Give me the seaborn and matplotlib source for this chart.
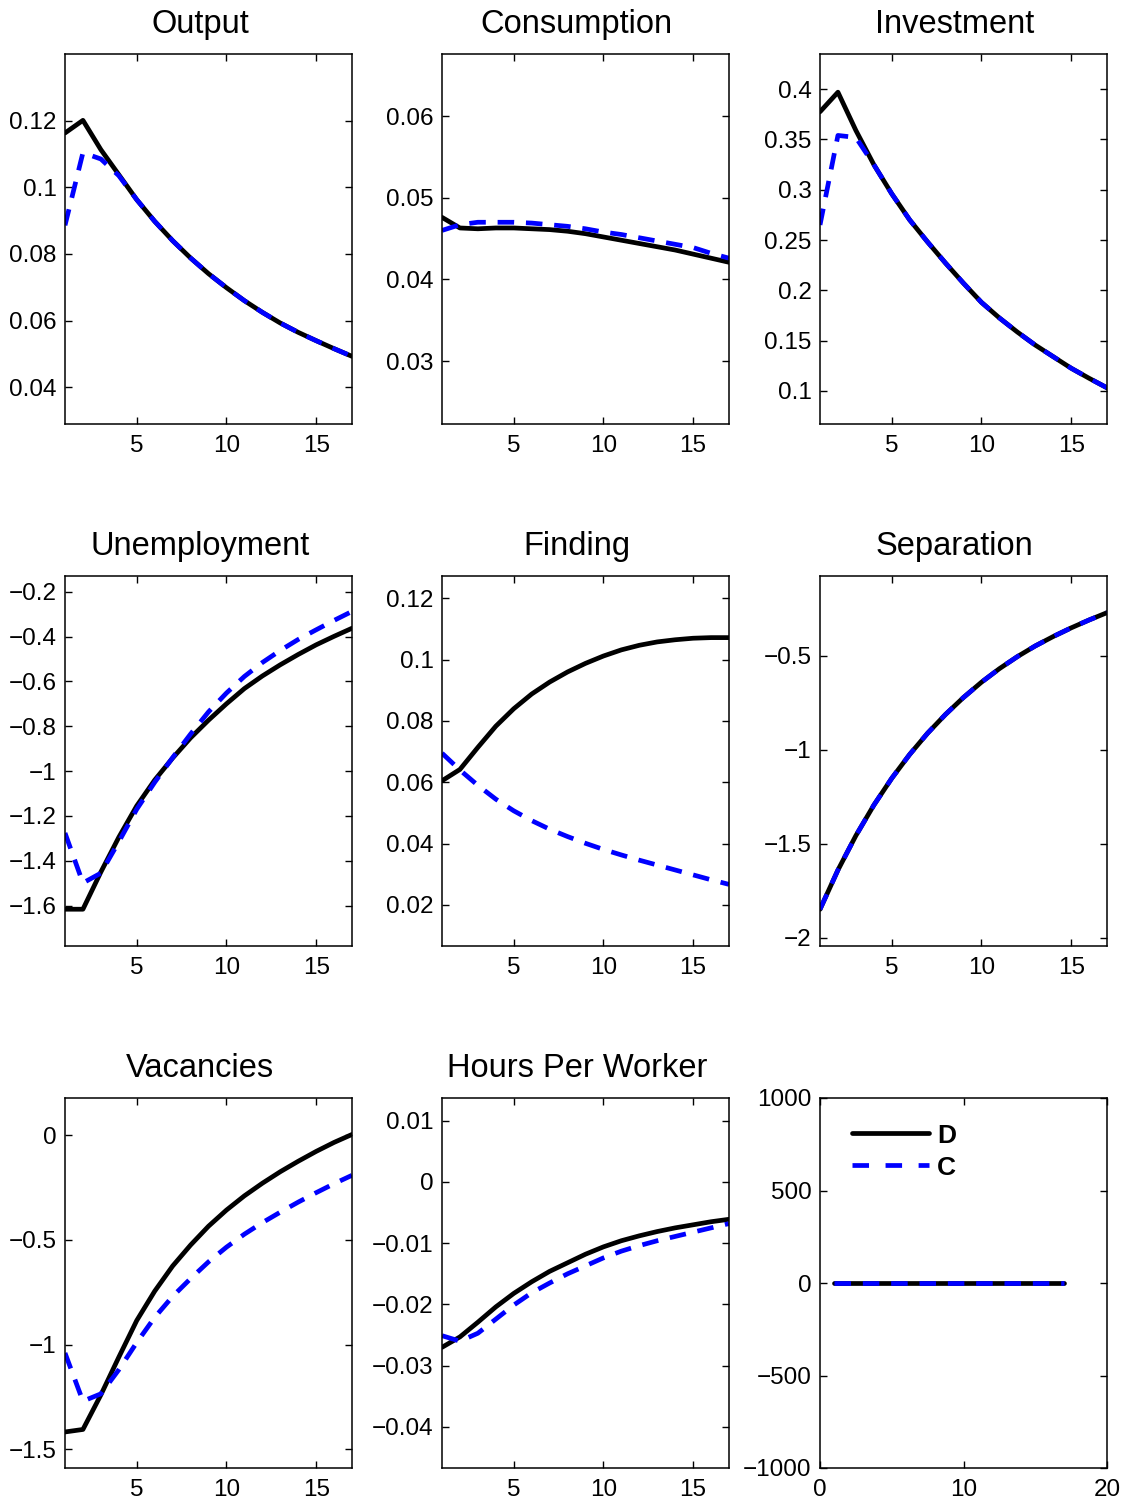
import matplotlib
matplotlib.use("Agg")
import matplotlib.pyplot as plt
import seaborn as sns
import pandas as pd

periods = list(range(1, 18))

titles = ["Output", "Consumption", "Investment", "Unemployment", "Finding",
          "Separation", "Vacancies", "Hours Per Worker", ""]

output_D = [0.1163, 0.1201, 0.1113, 0.1038, 0.0963, 0.0898, 0.0840, 0.0788, 0.0741,
            0.0699, 0.0660, 0.0625, 0.0593, 0.0565, 0.0540, 0.0516, 0.0493]
output_C = [0.0886, 0.1104, 0.1085, 0.1035, 0.0963, 0.0898, 0.0840, 0.0788, 0.0741,
            0.0699, 0.0660, 0.0625, 0.0593, 0.0565, 0.0540, 0.0516, 0.0493]

cons_D = [0.0476, 0.0463, 0.0462, 0.0463, 0.0463, 0.0462, 0.0461, 0.0459, 0.0456,
          0.0452, 0.0448, 0.0444, 0.0440, 0.0436, 0.0431, 0.0426, 0.0421]
cons_C = [0.0460, 0.0467, 0.0470, 0.0470, 0.0470, 0.0469, 0.0467, 0.0465, 0.0462,
          0.0458, 0.0455, 0.0451, 0.0447, 0.0443, 0.0439, 0.0432, 0.0426]

inv_D = [0.3775, 0.3970, 0.3590, 0.3250, 0.2960, 0.2700, 0.2480, 0.2270, 0.2070,
         0.1880, 0.1725, 0.1585, 0.1455, 0.1340, 0.1225, 0.1125, 0.1030]
inv_C = [0.2650, 0.3540, 0.3520, 0.3250, 0.2960, 0.2700, 0.2480, 0.2270, 0.2070,
         0.1880, 0.1725, 0.1585, 0.1455, 0.1340, 0.1225, 0.1125, 0.1030]

unemp_D = [-1.616, -1.616, -1.450, -1.295, -1.155, -1.040, -0.942, -0.852, -0.773,
           -0.700, -0.632, -0.576, -0.526, -0.480, -0.437, -0.399, -0.363]
unemp_C = [-1.276, -1.499, -1.455, -1.315, -1.170, -1.050, -0.940, -0.835, -0.736,
           -0.652, -0.578, -0.516, -0.462, -0.413, -0.370, -0.328, -0.288]

find_D = [0.0605, 0.0642, 0.0714, 0.0783, 0.0840, 0.0888, 0.0927, 0.0960, 0.0988,
          0.1012, 0.1032, 0.1047, 0.1058, 0.1065, 0.1070, 0.1072, 0.1072]
find_C = [0.0695, 0.0640, 0.0590, 0.0545, 0.0507, 0.0475, 0.0447, 0.0423, 0.0401,
          0.0381, 0.0363, 0.0346, 0.0330, 0.0314, 0.0298, 0.0282, 0.0267]

sep_D = [-1.849, -1.640, -1.457, -1.295, -1.152, -1.025, -0.912, -0.812, -0.722,
         -0.641, -0.569, -0.505, -0.448, -0.398, -0.352, -0.310, -0.271]
sep_C = [-1.849, -1.640, -1.457, -1.295, -1.152, -1.025, -0.912, -0.812, -0.722,
         -0.641, -0.569, -0.505, -0.448, -0.398, -0.352, -0.310, -0.271]

vac_D = [-1.417, -1.405, -1.240, -1.060, -0.885, -0.745, -0.625, -0.525, -0.435,
         -0.358, -0.290, -0.230, -0.175, -0.125, -0.078, -0.035, 0.003]
vac_C = [-1.040, -1.270, -1.235, -1.120, -0.990, -0.870, -0.770, -0.685, -0.605,
         -0.535, -0.473, -0.418, -0.368, -0.320, -0.275, -0.232, -0.192]

hours_D = [-0.0270, -0.0253, -0.0229, -0.0204, -0.0182, -0.0163, -0.0146, -0.0132,
           -0.0118, -0.0106, -0.0096, -0.0088, -0.0081, -0.0075, -0.0070, -0.0065, -0.0061]
hours_C = [-0.0251, -0.0260, -0.0247, -0.0224, -0.0201, -0.0181, -0.0165, -0.0150,
           -0.0137, -0.0124, -0.0113, -0.0104, -0.0096, -0.0089, -0.0082, -0.0075, -0.0068]

legend_D = [0.0] * 17
legend_C = [0.0] * 17

series_D = [output_D, cons_D, inv_D, unemp_D, find_D, sep_D, vac_D, hours_D, legend_D]
series_C = [output_C, cons_C, inv_C, unemp_C, find_C, sep_C, vac_C, hours_C, legend_C]

ylims = [(0.029, 0.140), (0.0223, 0.0676), (0.067, 0.435),
         (-1.78, -0.13), (0.0066, 0.1273), (-2.044, -0.076),
         (-1.589, 0.177), (-0.0467, 0.0137), (-1000, 1000)]
yticks = [[0.04, 0.06, 0.08, 0.10, 0.12],
          [0.03, 0.04, 0.05, 0.06],
          [0.1, 0.15, 0.2, 0.25, 0.3, 0.35, 0.4],
          [-1.6, -1.4, -1.2, -1.0, -0.8, -0.6, -0.4, -0.2],
          [0.02, 0.04, 0.06, 0.08, 0.10, 0.12],
          [-2, -1.5, -1, -0.5],
          [-1.5, -1, -0.5, 0],
          [-0.04, -0.03, -0.02, -0.01, 0, 0.01],
          [-1000, -500, 0, 500, 1000]]
yticklabels = [["0.04", "0.06", "0.08", "0.1", "0.12"],
               ["0.03", "0.04", "0.05", "0.06"],
               ["0.1", "0.15", "0.2", "0.25", "0.3", "0.35", "0.4"],
               ["\u22121.6", "\u22121.4", "\u22121.2", "\u22121", "\u22120.8", "\u22120.6", "\u22120.4", "\u22120.2"],
               ["0.02", "0.04", "0.06", "0.08", "0.1", "0.12"],
               ["\u22122", "\u22121.5", "\u22121", "\u22120.5"],
               ["\u22121.5", "\u22121", "\u22120.5", "0"],
               ["\u22120.04", "\u22120.03", "\u22120.02", "\u22120.01", "0", "0.01"],
               ["\u22121000", "\u2212500", "0", "500", "1000"]]

sns.set_style("ticks")
plt.rcParams["font.family"] = ["Liberation Sans", "DejaVu Sans"]
plt.rcParams.update({
    "xtick.direction": "in", "ytick.direction": "in",
    "xtick.top": True, "ytick.right": True,
    "xtick.major.size": 5, "ytick.major.size": 5,
    "xtick.major.width": 1.0, "ytick.major.width": 1.0,
    "axes.linewidth": 1.1, "axes.edgecolor": "black",
    "xtick.color": "black", "ytick.color": "black",
    "xtick.labelcolor": "black", "ytick.labelcolor": "black",
    "text.color": "black", "axes.labelcolor": "black",
    "axes.titlecolor": "black",
})

W, H = 1126, 1505
fig = plt.figure(figsize=(W / 100, H / 100), dpi=100)
fig.patch.set_facecolor("white")

col_left = [65, 442, 820]
row_top = [54, 576, 1098]
aw, ah = 287, 370
LW = 3.4
DASH = (3.5, 2.5)

for i in range(9):
    r, c = divmod(i, 3)
    ax = fig.add_axes([col_left[c] / W, 1 - (row_top[r] + ah) / H, aw / W, ah / H])
    df = pd.DataFrame({"period": periods, "D": series_D[i], "C": series_C[i]})
    sns.lineplot(data=df, x="period", y="D", ax=ax, color="black", linewidth=LW,
                 label="D" if i == 8 else None, legend=False)
    sns.lineplot(data=df, x="period", y="C", ax=ax, color="blue", linewidth=LW,
                 linestyle="--", label="C" if i == 8 else None, legend=False)
    ax.lines[-1].set_dashes(DASH)
    ax.set_xlabel("")
    ax.set_ylabel("")
    ax.set_ylim(*ylims[i])
    ax.set_yticks(yticks[i])
    ax.set_yticklabels(yticklabels[i])
    if i < 8:
        ax.set_xlim(1, 17)
        ax.set_xticks([5, 10, 15])
    else:
        ax.set_xlim(0, 20)
        ax.set_xticks([0, 10, 20])
    ax.tick_params(axis="both", labelsize=17.5)
    ax.tick_params(axis="x", pad=8)
    ax.tick_params(axis="y", pad=6)
    for sp in ax.spines.values():
        sp.set_visible(True)
        sp.set_color("black")
    if titles[i]:
        ax.set_title(titles[i], fontsize=23.5, pad=15, color="black", x=0.47)
    if i == 8:
        leg = ax.legend(loc="upper left", bbox_to_anchor=(0.03, 0.995), frameon=False,
                        handlelength=2.9, handletextpad=0.3, labelspacing=0.3,
                        prop={"weight": "bold", "size": 19})
        leg.get_lines()[1].set_dashes((3.5, 3.5))
        for t in leg.get_texts():
            t.set_color("black")

fig.savefig("out.png", dpi=100, facecolor="white")
